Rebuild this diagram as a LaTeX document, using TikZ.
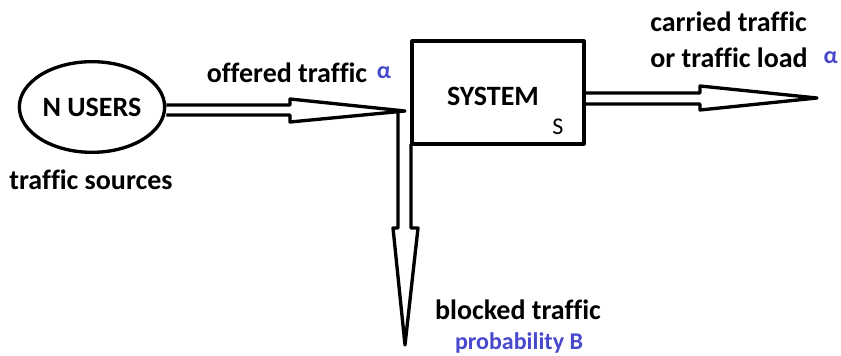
\documentclass[tikz,border=0pt]{standalone}
\usepackage{fontspec}
\setmainfont{Carlito}[Ligatures=NoCommon]
\usepackage{tikz}
\usetikzlibrary{shapes.geometric, positioning, calc}
\definecolor{probblue}{RGB}{72,72,204}

\begin{document}
\begin{tikzpicture}[x=0.75pt,y=-0.75pt,
    thick line/.style={line width=2.5pt, line join=round},
    lbl/.style={font=\bfseries\fontsize{21}{27}\selectfont, inner sep=0pt},
    greek/.style={font=\bfseries\fontsize{18}{20}\selectfont, text=probblue, inner sep=0pt}]
    \useasboundingbox (0,0) rectangle (841,356);

    \node[ellipse, draw, thick line, minimum width=109pt, minimum height=68pt, lbl] (users) at (92,107) {N USERS};
    \node[rectangle, draw, thick line, minimum width=129pt, minimum height=77pt] (sys) at (498,92.5) {};
    \node[lbl] (systxt) at (493,96) {SYSTEM};
    \node[font=\fontsize{18}{20}\selectfont, inner sep=0pt] (cap) at (558,127) {S};

    % arrow tips
    \coordinate (offtip) at (405,111);
    \coordinate (cartip) at (817,98);
    \coordinate (blktip) at (405,345);

    % offered traffic
    \draw[thick line] (users.east |- 0,105) -- (290,105) -- (290,99) -- (offtip)
        -- (290,122) -- (290,115) -- (users.east |- 0,115);
    % carried traffic
    \draw[thick line] (sys.east |- 0,93) -- (700,93) -- (700,86) -- (cartip)
        -- (700,110) -- (700,104) -- (sys.east |- 0,104);
    % blocked traffic
    \draw[thick line] (offtip -| 398,0) -- (398,228) -- (393,228) -- (blktip)
        -- (418,228) -- (411,228) -- (411,144);

    \node[lbl] (offered) at (287,73) {offered traffic};
    \node[greek] (offa) at (384,73) {α};
    \node[lbl, align=left, anchor=west] (carried) at (650,40) {carried traffic\\or traffic load};
    \node[greek, anchor=east] (cara) at (838,58) {α};
    \node[lbl] (sources) at (91,180) {traffic sources};
    \node[lbl] (blocked) at (518,310) {blocked traffic};
    \node[font=\bfseries\fontsize{18}{20}\selectfont, text=probblue, inner sep=0pt] (prob) at (519,343) {probability B};
\end{tikzpicture}
\end{document}
